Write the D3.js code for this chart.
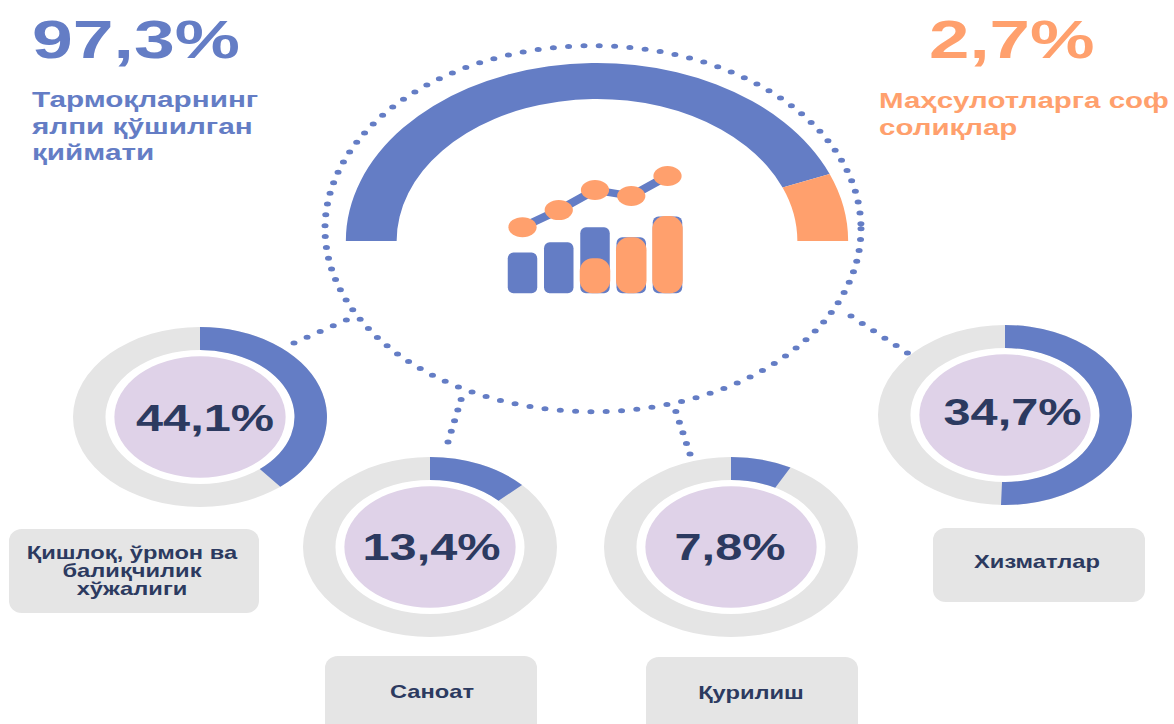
<!DOCTYPE html>
<html>
<head>
<meta charset="utf-8">
<script src="https://cdn.jsdelivr.net/npm/d3@7"></script>
<style>
  html, body { margin: 0; background: #fff; }
  svg { display: block; }
  text { font-family: "Liberation Sans", Arial, sans-serif; font-weight: 700; }
</style>
</head>
<body>
<svg id="chart" width="1174" height="724"></svg>
<script>
const blue = '#647dc5'
const orange = '#ffa06d'
const grey = '#e5e5e5'
const lilac = '#dfd2e8'
const ink = '#2c3a60'

// gauge at the top, shares as drawn in the picture
const gaugeLabels = ['97,3%', '2,7%']
const gaugeShares = [87.7, 12.3]

// the four rings, drawn sweep differs a bit from the printed number
const ringLabels = ['44,1%', '13,4%', '7,8%', '34,7%']
const ringSweeps = [39.1, 12.9, 7.75, 50.5]
const ringNames = [
  ['Қишлоқ, ўрмон ва', 'балиқчилик', 'хўжалиги'],
  ['Саноат'],
  ['Қурилиш'],
  ['Хизматлар']
]
const leftCaption = ['Тармоқларнинг', 'ялпи қўшилган', 'қиймати']
const rightCaption = ['Маҳсулотларга соф', 'солиқлар']

// little icon in the middle
const iconSteps = ['a', 'b', 'c', 'd', 'e']
const iconBlue = [40.6, 51, 66, 56, 76.6]
const iconOrange = [0, 0, 35, 56, 77]
const iconLine = [66, 83, 103, 97, 117]

// whole picture is stretched sideways, so draw round and scale x
const k = 1.411
const px = v => v / k

const svg = d3.select('#chart')
const g = svg.append('g').attr('transform', `scale(${k},1)`)

// text is stretched a little less than the shapes
function label(str, x, y, size, stretch, color, anchor) {
  g.append('text')
    .attr('transform', `translate(${px(x)},${y}) scale(${stretch / k},1)`)
    .attr('text-anchor', anchor)
    .attr('font-size', size)
    .attr('fill', color)
    .text(str)
}

// dotted outline and connectors
const dotted = sel => sel
  .attr('fill', 'none')
  .attr('stroke', blue)
  .attr('stroke-width', 5)
  .attr('stroke-linecap', 'round')
  .attr('stroke-dasharray', '0 10.9')

g.append('ellipse')
  .attr('cx', px(593))
  .attr('cy', 228.7)
  .attr('rx', px(268))
  .attr('ry', 183)
  .call(dotted)

const connectors = [
  [[294, 343], [358, 315]],
  [[448, 442], [464, 390]],
  [[690, 454], [673, 403]],
  [[851, 316], [912, 356]]
]
const connectorLine = d3.line().x(d => px(d[0])).y(d => d[1])
g.selectAll('.connector')
  .data(connectors)
  .enter()
  .append('path')
  .attr('class', 'connector')
  .attr('d', connectorLine)
  .call(dotted)

// gauge
const gaugeAngle = d3.scaleLinear().domain([0, 100]).range([-Math.PI / 2, Math.PI / 2])
const gaugeArc = d3.arc().innerRadius(142).outerRadius(178)
let gaugeStart = 0
const gauge = g.append('g').attr('transform', `translate(${px(597)},241)`)
gaugeShares.forEach((v, i) => {
  gauge.append('path')
    .attr('fill', i === 0 ? blue : orange)
    .attr('d', gaugeArc({ startAngle: gaugeAngle(gaugeStart), endAngle: gaugeAngle(gaugeStart + v) }))
  gaugeStart += v
})

// icon
const iconX = d3.scalePoint().domain(iconSteps).range([px(522.5), px(667.5)])
const iconY = d3.scaleLinear().domain([0, 117]).range([293.3, 176])
const barW = px(29.5)
const barWide = px(30.5)

g.selectAll('.bar')
  .data(iconBlue)
  .enter()
  .append('rect')
  .attr('class', 'bar')
  .attr('x', (d, i) => iconX(iconSteps[i]) - barW / 2)
  .attr('y', d => iconY(d))
  .attr('width', barW)
  .attr('height', d => iconY(0) - iconY(d))
  .attr('rx', 4)
  .attr('ry', 6)
  .attr('fill', blue)

g.selectAll('.bar2')
  .data(iconOrange)
  .enter()
  .filter(d => d > 0)
  .append('rect')
  .attr('class', 'bar2')
  .attr('x', d => iconX(iconSteps[iconOrange.indexOf(d)]) - barWide / 2)
  .attr('y', d => iconY(d))
  .attr('width', barWide)
  .attr('height', d => iconY(0) - iconY(d))
  .attr('rx', 9)
  .attr('ry', 13)
  .attr('fill', orange)

const iconPath = d3.line().x((d, i) => iconX(iconSteps[i])).y(d => iconY(d))
g.append('path')
  .attr('d', iconPath(iconLine))
  .attr('fill', 'none')
  .attr('stroke', blue)
  .attr('stroke-width', 7.5)

g.selectAll('.node')
  .data(iconLine)
  .enter()
  .append('circle')
  .attr('class', 'node')
  .attr('cx', (d, i) => iconX(iconSteps[i]))
  .attr('cy', d => iconY(d))
  .attr('r', 10)
  .attr('fill', orange)

// rings
const ringCx = [200, 430, 731, 1005]
const ringCy = [417, 547, 547, 415]
const labelX = [205, 431.5, 730, 1012.5]
const labelY = [431, 559.5, 559.5, 425]
const boxes = [
  [9, 529, 250, 84],
  [325, 656, 212, 90],
  [646, 657, 212, 90],
  [933, 528, 212, 74]
]
const nameX = [132, 432, 751, 1037]
const nameY = [[559, 577, 595], [698], [699], [568]]
const ringAngle = d3.scaleLinear().domain([0, 100]).range([0, 2 * Math.PI])
const ringArc = d3.arc().innerRadius(67).outerRadius(90)

ringLabels.forEach((str, i) => {
  const ring = g.append('g').attr('transform', `translate(${px(ringCx[i])},${ringCy[i]})`)
  ring.append('path')
    .attr('fill', grey)
    .attr('d', ringArc({ startAngle: 0, endAngle: 2 * Math.PI }))
  ring.append('path')
    .attr('fill', blue)
    .attr('d', ringArc({ startAngle: 0, endAngle: ringAngle(ringSweeps[i]) }))
  ring.append('circle')
    .attr('r', 60.7)
    .attr('fill', lilac)
  label(str, labelX[i], labelY[i], 37, 1.315, ink, 'middle')

  const b = boxes[i]
  g.append('rect')
    .attr('x', px(b[0]))
    .attr('y', b[1])
    .attr('width', px(b[2]))
    .attr('height', b[3])
    .attr('rx', 9)
    .attr('ry', 12)
    .attr('fill', grey)

  ringNames[i].forEach((line, j) => {
    label(line, nameX[i], nameY[i][j], 18, 1.317, ink, 'middle')
  })
})

// headline numbers and captions
label(gaugeLabels[0], 32, 58, 54, 1.358, blue, 'start')
label(gaugeLabels[1], 929, 58, 54, 1.345, orange, 'start')

leftCaption.forEach((line, i) => {
  label(line, 32, 107 + i * 26.5, 22, 1.35, blue, 'start')
})
rightCaption.forEach((line, i) => {
  label(line, 879, 108 + i * 26.5, 22, 1.34, orange, 'start')
})
</script>
</body>
</html>
